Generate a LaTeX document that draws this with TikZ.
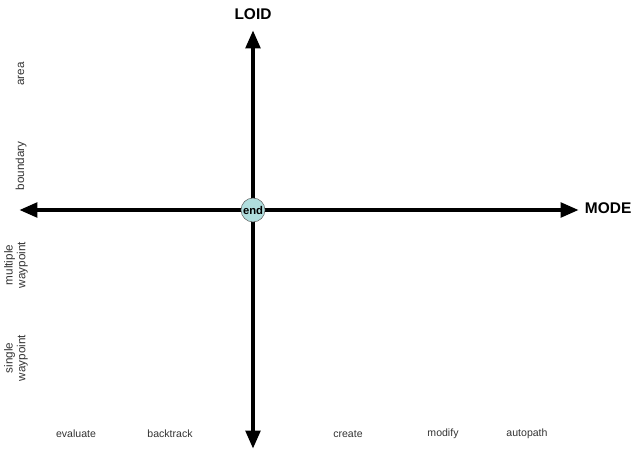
\documentclass[tikz,border=0pt]{standalone}
\usepackage{fontspec}
\setmainfont{Liberation Sans}
\usetikzlibrary{arrows.meta}
\definecolor{endcol}{RGB}{176,222,222}
\tikzset{
  axis/.style    = {{Triangle[length=13pt,width=10pt]}-{Triangle[length=13pt,width=10pt]}, line width=3.4pt},
  axislab/.style = {font=\fontsize{11}{13}\selectfont\bfseries},
  modelab/.style = {font=\fontsize{7.5}{9}\selectfont, text=black!80},
  loidlab/.style = {font=\fontsize{8.3}{9}\selectfont, text=black!80, rotate=90, align=center},
  endnode/.style = {circle, draw=black!60, fill=endcol, inner sep=0pt, minimum size=17pt,
                    font=\fontsize{8}{9}\selectfont\bfseries},
}
\begin{document}
\begin{tikzpicture}[x=0.025cm, y=-0.025cm]
  \useasboundingbox (0,0) rectangle (632,452);

  % axis ends
  \coordinate (west)  at (19,210);
  \coordinate (east)  at (579,210);
  \coordinate (north) at (253,30);
  \coordinate (south) at (253,449);

  \draw[axis] (west) -- (east);
  \draw[axis] (south) -- (north);

  \node[endnode] (end) at (253,210) {end};

  \node[axislab] (loid) at (253,14) {LOID};
  \node[axislab, anchor=west] (mode) at (580,208) {MODE};

  % LOID values
  \node[loidlab] (area)     at (21,74)  {area};
  \node[loidlab] (boundary) at (21,166) {boundary};
  \node[loidlab] (multi)    at (16,265) {multiple\\waypoint};
  \node[loidlab] (single)   at (16,358) {single\\waypoint};

  % MODE values
  \node[modelab] (evaluate)  at (76,434)  {evaluate};
  \node[modelab] (backtrack) at (170,434) {backtrack};
  \node[modelab] (create)    at (348,434) {create};
  \node[modelab] (modify)    at (443,434) {modify};
  \node[modelab] (autopath)  at (527,434) {autopath};
\end{tikzpicture}
\end{document}
